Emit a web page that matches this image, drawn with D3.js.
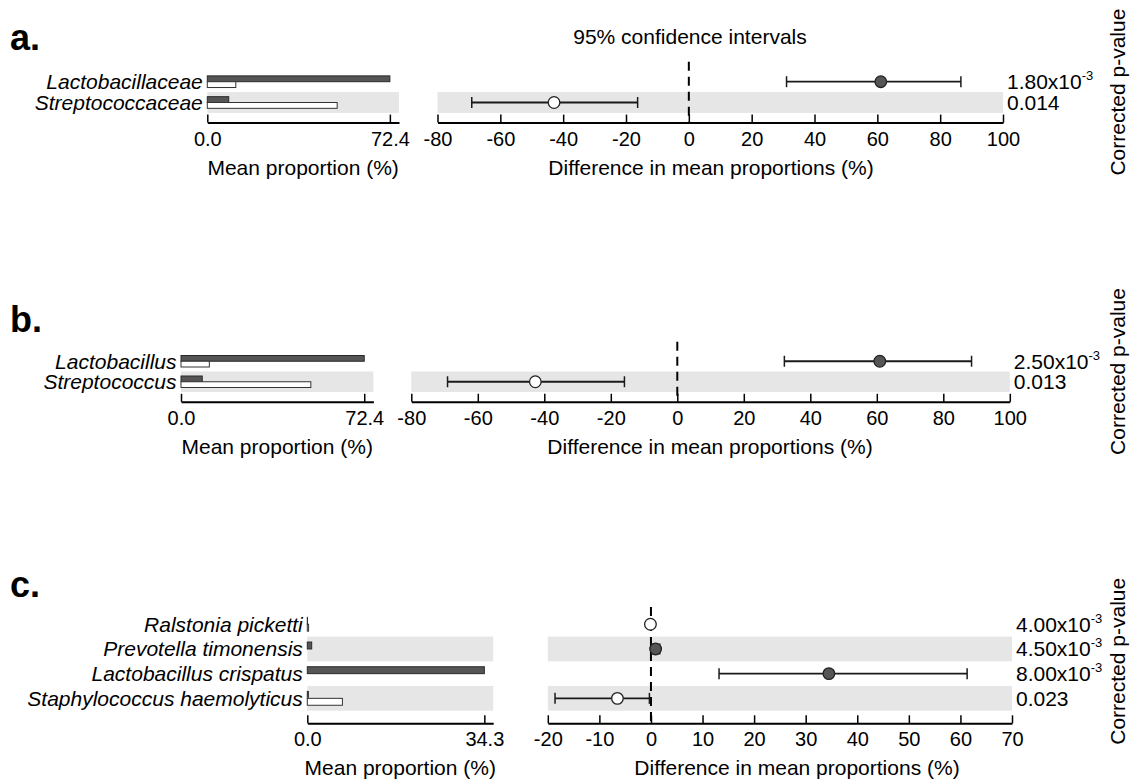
<!DOCTYPE html>
<html><head><meta charset="utf-8">
<script src="https://cdn.jsdelivr.net/npm/d3@7"></script>
<style>
body{margin:0;background:#fff;}
svg{display:block;font-family:"Liberation Sans",Arial,Helvetica,sans-serif;}
</style>
</head><body>
<svg id="chart" width="1135" height="783"></svg>
<script>
// ---------------- DATA ----------------
const featuresA = ["Lactobacillaceae", "Streptococcaceae"];
const group1A = [72.4, 8.5];      // dark bars
const group2A = [11.3, 51.5];     // white bars
const diffA = [61.1, -42.9];
const ciLowA = [31.1, -69.1];
const ciHighA = [86.6, -16.3];
const pMainA = ["1.80x10", "0.014"];
const pExpA = ["-3", ""];
const propMaxA = 72.4;
const diffTicksA = [-80, -60, -40, -20, 0, 20, 40, 60, 80, 100];

const featuresB = ["Lactobacillus", "Streptococcus"];
const group1B = [72.4, 8.4];
const group2B = [11.2, 51.3];
const diffB = [60.9, -42.7];
const ciLowB = [32.2, -69.1];
const ciHighB = [88.5, -15.9];
const pMainB = ["2.50x10", "0.013"];
const pExpB = ["-3", ""];
const propMaxB = 72.4;
const diffTicksB = [-80, -60, -40, -20, 0, 20, 40, 60, 80, 100];

const featuresC = ["Ralstonia picketti", "Prevotella timonensis", "Lactobacillus crispatus", "Staphylococcus haemolyticus"];
const group1C = [0.03, 0.85, 34.3, 0.2];
const group2C = [0.25, 0, 0, 6.8];
const diffC = [-0.1, 0.9, 34.5, -6.5];
const ciLowC = [-0.3, 0.2, 13.2, -18.6];
const ciHighC = [0.1, 1.7, 61.3, -0.3];
const pMainC = ["4.00x10", "4.50x10", "8.00x10", "0.023"];
const pExpC = ["-3", "-3", "-3", ""];
const propMaxC = 34.3;
const diffTicksC = [-20, -10, 0, 10, 20, 30, 40, 50, 60, 70];

const panelLetters = ["a.", "b.", "c."];
const ciTitle = "95% confidence intervals";
const leftAxisTitle = "Mean proportion (%)";
const rightAxisTitle = "Difference in mean proportions (%)";
const pAxisTitle = "Corrected p-value";

// ---------------- LAYOUT ----------------
const layouts = [
  {letterY: 50, x0: 207.3, x1: 399, rx0: 437.5, rx1: 1003, rowTop: 71.3, rowStep: 20.8, axisY: 122.6, dashTop: 61.7, diffTitleX: 711, showTitle: true},
  {letterY: 331.7, x0: 181, x1: 373.4, rx0: 411.3, rx1: 1009.8, rowTop: 351, rowStep: 20.5, axisY: 401.8, dashTop: 341.7, diffTitleX: 710, showTitle: false},
  {letterY: 596.7, x0: 307.3, x1: 493.2, rx0: 547.8, rx1: 1012, rowTop: 611.9, rowStep: 24.7, axisY: 723.3, dashTop: 607, diffTitleX: 797, showTitle: false}
];

const panels = [
  {features: featuresA, g1: group1A, g2: group2A, diff: diffA, lo: ciLowA, hi: ciHighA, pMain: pMainA, pExp: pExpA, propMax: propMaxA, ticks: diffTicksA},
  {features: featuresB, g1: group1B, g2: group2B, diff: diffB, lo: ciLowB, hi: ciHighB, pMain: pMainB, pExp: pExpB, propMax: propMaxB, ticks: diffTicksB},
  {features: featuresC, g1: group1C, g2: group2C, diff: diffC, lo: ciLowC, hi: ciHighC, pMain: pMainC, pExp: pExpC, propMax: propMaxC, ticks: diffTicksC}
];

const BAND = "#e6e6e6", DARK = "#555555", INK = "#1a1a1a";

const svg = d3.select("#chart");

panels.forEach((d, pi) => {
  const L = layouts[pi];
  const g = svg.append("g");
  const n = d.features.length;

  const y = d3.scaleBand().domain(d.features).range([L.rowTop, L.rowTop + n * L.rowStep]);
  const xL = d3.scaleLinear().domain([0, d.propMax * 1.05]).range([L.x0, L.x1]);
  const xR = d3.scaleLinear().domain([d.ticks[0], d.ticks[d.ticks.length - 1]]).range([L.rx0, L.rx1]);
  const cy = f => y(f) + y.bandwidth() / 2;
  const bh = y.step() * 0.28;

  // panel letter
  g.append("text").attr("x", 10).attr("y", L.letterY)
    .attr("font-size", 36).attr("font-weight", "bold").attr("fill", "#000")
    .text(panelLetters[pi]);

  // alternating bands
  d.features.forEach((f, i) => {
    if (i % 2 === 1) {
      g.append("rect").attr("x", L.x0).attr("y", y(f)).attr("width", L.x1 - L.x0).attr("height", y.bandwidth()).attr("fill", BAND);
      g.append("rect").attr("x", L.rx0).attr("y", y(f)).attr("width", L.rx1 - L.rx0).attr("height", y.bandwidth()).attr("fill", BAND);
    }
  });

  // bars
  d.features.forEach((f, i) => {
    const c = cy(f);
    if (d.g1[i] > 0) {
      g.append("rect").attr("x", xL(0)).attr("y", c - bh).attr("width", xL(d.g1[i]) - xL(0)).attr("height", bh)
        .attr("fill", DARK).attr("stroke", "#2a2a2a").attr("stroke-width", 1);
    }
    if (d.g2[i] > 0) {
      g.append("rect").attr("x", xL(0)).attr("y", c).attr("width", xL(d.g2[i]) - xL(0)).attr("height", bh)
        .attr("fill", "#fff").attr("stroke", "#333").attr("stroke-width", 1);
    }
    g.append("text").attr("x", L.x0 - 4.5).attr("y", c + 7.5)
      .attr("text-anchor", "end").attr("font-size", 21).attr("font-style", "italic").attr("fill", "#000")
      .text(f);
  });

  // left axis
  const axL = d3.axisBottom(xL).tickValues([0, d.propMax]).tickFormat(d3.format(".1f"))
    .tickSizeInner(-8).tickSizeOuter(0).tickPadding(8.8);
  const gL = g.append("g").attr("transform", `translate(0,${L.axisY})`).call(axL);

  // right axis
  const axR = d3.axisBottom(xR).tickValues(d.ticks).tickFormat(v => String(v))
    .tickSizeInner(-8).tickSizeOuter(0).tickPadding(8.8);
  const gR = g.append("g").attr("transform", `translate(0,${L.axisY})`).call(axR);

  [gL, gR].forEach(ax => {
    ax.select(".domain").attr("stroke", "#000").attr("stroke-width", 2);
    ax.selectAll(".tick line").attr("stroke", "#000").attr("stroke-width", 1.5);
    ax.selectAll(".tick text").attr("font-size", 20).attr("fill", "#000")
      .attr("font-family", "'Liberation Sans',Arial,sans-serif");
  });

  // dashed zero line
  g.append("line").attr("x1", xR(0)).attr("x2", xR(0)).attr("y1", L.dashTop).attr("y2", L.axisY)
    .attr("stroke", "#000").attr("stroke-width", 2).attr("stroke-dasharray", "9,6");

  // confidence intervals
  d.features.forEach((f, i) => {
    const c = cy(f);
    g.append("line").attr("x1", xR(d.lo[i])).attr("x2", xR(d.hi[i])).attr("y1", c).attr("y2", c)
      .attr("stroke", INK).attr("stroke-width", 1.8);
    [d.lo[i], d.hi[i]].forEach(v => {
      g.append("line").attr("x1", xR(v)).attr("x2", xR(v)).attr("y1", c - 5.5).attr("y2", c + 5.5)
        .attr("stroke", INK).attr("stroke-width", 1.5);
    });
    g.append("circle").attr("cx", xR(d.diff[i])).attr("cy", c).attr("r", 5.8)
      .attr("fill", d.diff[i] > 0 ? DARK : "#fff").attr("stroke", "#222").attr("stroke-width", 1.3);

    // p-value
    const t = g.append("text").attr("x", L.rx1 + 4).attr("y", c + 7.5).attr("font-size", 21).attr("fill", "#000");
    t.append("tspan").text(d.pMain[i]);
    if (d.pExp[i]) t.append("tspan").attr("font-size", 13).attr("dy", -9).text(d.pExp[i]);
  });

  // axis titles
  g.append("text").attr("x", (L.x0 + L.x1) / 2).attr("y", L.axisY + 52).attr("text-anchor", "middle")
    .attr("font-size", 21).attr("fill", "#000").text(leftAxisTitle);
  g.append("text").attr("x", L.diffTitleX).attr("y", L.axisY + 52).attr("text-anchor", "middle")
    .attr("font-size", 21).attr("fill", "#000").text(rightAxisTitle);

  // rotated p-value title
  const midY = L.rowTop + n * L.rowStep / 2;
  g.append("text").attr("transform", `translate(1125,${midY}) rotate(-90)`).attr("text-anchor", "middle")
    .attr("font-size", 21).attr("fill", "#000").text(pAxisTitle);

  if (L.showTitle) {
    g.append("text").attr("x", 690).attr("y", 44).attr("text-anchor", "middle")
      .attr("font-size", 21).attr("fill", "#000").text(ciTitle);
  }
});
</script>
</body></html>
